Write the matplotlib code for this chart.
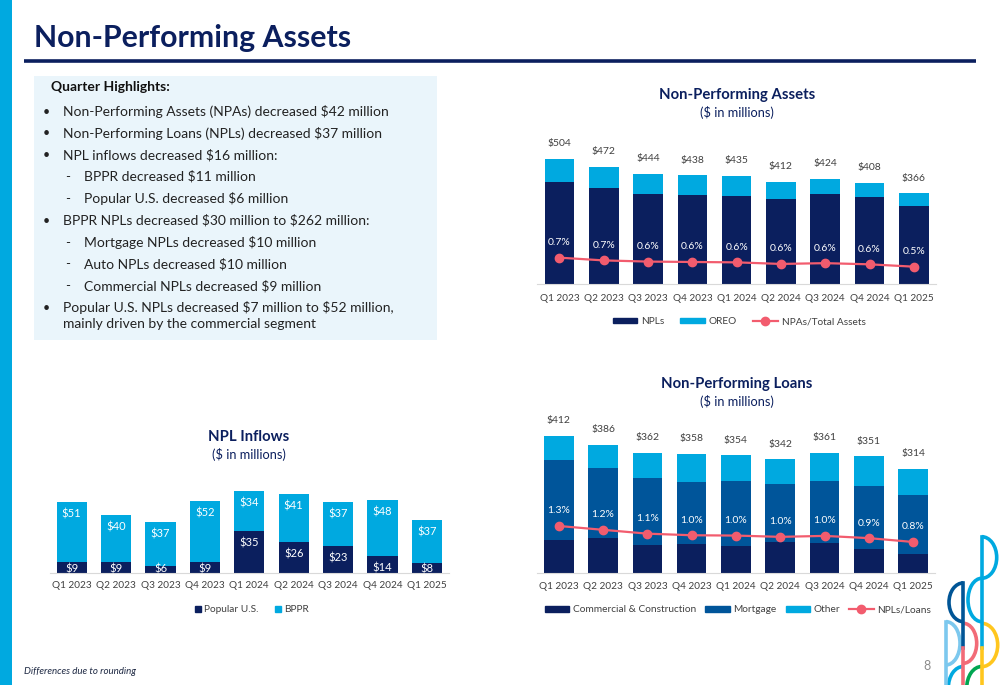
import matplotlib
matplotlib.use('Agg')
import matplotlib.pyplot as plt
from matplotlib.patches import Rectangle, Arc, Patch
from matplotlib.lines import Line2D

plt.rcParams['font.family'] = ['Lato', 'DejaVu Sans']

# ---------------- data ----------------
quarters = ['Q1 2023', 'Q2 2023', 'Q3 2023', 'Q4 2023', 'Q1 2024',
            'Q2 2024', 'Q3 2024', 'Q4 2024', 'Q1 2025']
npls = [412, 386, 362, 358, 354, 342, 361, 351, 314]
oreo = [92, 86, 82, 80, 81, 70, 63, 57, 52]
npa_ratio = [0.73, 0.66, 0.63, 0.62, 0.61, 0.57, 0.59, 0.56, 0.50]

commercial = [100, 107, 86, 89, 83, 93, 90, 73, 59]
mortgage = [240, 210, 199, 186, 195, 175, 187, 188, 177]
other = [72, 69, 77, 83, 76, 74, 84, 90, 78]
npl_ratio = [1.30, 1.18, 1.06, 1.01, 1.00, 0.96, 0.99, 0.92, 0.80]

popular_us = [9, 9, 6, 9, 35, 26, 23, 14, 8]
bppr = [51, 40, 37, 52, 34, 41, 37, 48, 37]

highlights = [
    ('b', 'Non-Performing Assets (NPAs) decreased $42 million'),
    ('b', 'Non-Performing Loans (NPLs) decreased $37 million'),
    ('b', 'NPL inflows decreased $16 million:'),
    ('s', 'BPPR decreased $11 million'),
    ('s', 'Popular U.S. decreased $6 million'),
    ('b', 'BPPR NPLs decreased $30 million to $262 million:'),
    ('s', 'Mortgage NPLs decreased $10 million'),
    ('s', 'Auto NPLs decreased $10 million'),
    ('s', 'Commercial NPLs decreased $9 million'),
    ('b', 'Popular U.S. NPLs decreased $7 million to $52 million,\nmainly driven by the commercial segment'),
]

# ---------------- styles ----------------
NAVY = '#0B1F5E'
MIDBLUE = '#00559A'
CYAN = '#00A9E0'
RED = '#F25C6E'
GRAY = '#404040'
TXT = '#222222'
W, H = 1000, 685

fig = plt.figure(figsize=(W / 100, H / 100), dpi=100)
fig.patch.set_facecolor('white')

bg = fig.add_axes([0, 0, 1, 1])
bg.set_xlim(0, W)
bg.set_ylim(H, 0)
bg.axis('off')


def px_axes(left, top, width, height):
    return fig.add_axes([left / W, 1 - (top + height) / H, width / W, height / H])


def txt(ax, xx, yy, s, **kw):
    return ax.text(xx, yy, s, parse_math=False, **kw)


# page decorations
bg.add_patch(Rectangle((0, 0), 12, H, color=CYAN, lw=0))
txt(bg, 34, 38, 'Non-Performing Assets', fontsize=21.8, fontweight='bold',
    color=NAVY, va='center', ha='left')
bg.plot([24, 976], [61, 61], color=NAVY, lw=2.6, solid_capstyle='butt')
bg.add_patch(Rectangle((34, 76), 403, 264, color='#EAF5FB', lw=0))
txt(bg, 51, 87, 'Quarter Highlights:', fontsize=10, fontweight='bold',
    color='#111111', va='center')
ys = [111.7, 133.3, 155, 176.7, 198.7, 220.7, 242.7, 264, 286, 307.7]
for (kind, item), y in zip(highlights, ys):
    if kind == 'b':
        txt(bg, 46, y, '•', fontsize=9, color=TXT, va='center', ha='center')
        tx = 63
    else:
        txt(bg, 68, y, '-', fontsize=9.5, color=TXT, va='center', ha='center')
        tx = 84
    for k, line in enumerate(item.split('\n')):
        txt(bg, tx, y + 16.6 * k, line, fontsize=10, color=TXT, va='center')

txt(bg, 24, 671.5, 'Differences due to rounding', fontsize=7, style='italic',
    color='#1F2A44', va='center')
txt(bg, 927.5, 665.5, '8', fontsize=9, color='#8C8C8C', va='center', ha='center')

# logo
lw = 2.6
bg.plot([981.7, 981.7], [536.7, 648], color=CYAN, lw=lw)
bg.plot([981.7, 981.7], [648, 686], color='#FFC61E', lw=lw)
bg.plot([963.3, 963.3], [583, 648], color='#005596', lw=lw)
bg.plot([963.3, 963.3], [648, 686], color='#F26B77', lw=lw)
bg.plot([946, 946], [621.7, 686], color='#7CC8EE', lw=lw)
arcs = [
    ((981.7, 557.5), 30, 41.6, -90, 90, CYAN),
    ((981.7, 600.0), 27.4, 43.4, 90, 270, CYAN),
    ((981.7, 645.0), 32, 43.4, -90, 90, '#FFC61E'),
    ((963.3, 602.3), 28.6, 38.7, 90, 270, '#005596'),
    ((963.3, 643.3), 26.8, 40, -90, 90, '#F26B77'),
    ((946.0, 643.3), 28, 43.3, -90, 90, '#7CC8EE'),
    ((963.3, 688.0), 30, 43, 90, 270, CYAN),
    ((981.7, 688.0), 30, 43, 90, 270, '#00A651'),
]
for c, wd, ht, t1, t2, col in arcs:
    bg.add_patch(Arc(c, wd, ht, theta1=t1, theta2=t2, color=col, lw=lw))

x = list(range(len(quarters)))


def style_axes(ax, pad):
    for s in ['top', 'left', 'right']:
        ax.spines[s].set_visible(False)
    ax.spines['bottom'].set_color('#D9D9D9')
    ax.spines['bottom'].set_linewidth(0.8)
    ax.set_yticks([])
    ax.set_xticks(x, quarters)
    ax.tick_params(axis='x', length=0, pad=pad, labelsize=7.2, labelcolor=GRAY)
    ax.set_xlim(-0.5, len(quarters) - 0.5)
    ax.patch.set_alpha(0)


def chart_title(cx, y1, y2, title):
    txt(bg, cx, y1, title, fontsize=10.7, fontweight='bold', color=NAVY, ha='center', va='center')
    txt(bg, cx, y2, '($ in millions)', fontsize=9.2, color=NAVY, ha='center', va='center')


def label(ax, s, xy, off, color):
    a = ax.annotate(s, xy, xytext=(0, off), textcoords='offset pixels',
                    ha='center', va='center', fontsize=7.5, color=color, zorder=5)
    a.set_parse_math(False)
    return a


LEG = dict(loc='center', bbox_transform=fig.transFigure, frameon=False,
           fontsize=7.3, labelcolor=GRAY)

# ---------------- Non-Performing Assets ----------------
ax1 = px_axes(537.3, 135, 398.7, 149)
style_axes(ax1, 7)
ax1.set_ylim(0, 600)
ax1.bar(x, npls, 0.67, color=NAVY, zorder=2)
ax1.bar(x, oreo, 0.67, bottom=npls, color=CYAN, zorder=2)
for i in x:
    tot = npls[i] + oreo[i]
    label(ax1, f'${tot}', (i, tot), 15, GRAY)
t1 = ax1.twinx()
t1.set_ylim(0.058, 3.86)
t1.axis('off')
t1.plot(x, npa_ratio, color=RED, lw=1.6, marker='o', ms=6, zorder=3)
for i in x:
    label(t1, f'{npa_ratio[i]:.1f}%', (i, npa_ratio[i]), 15, 'white')
chart_title(737, 95, 112, 'Non-Performing Assets')
h1 = [Patch(color=NAVY), Patch(color=CYAN),
      Line2D([], [], color=RED, lw=1.6, marker='o', ms=6)]
ax1.legend(h1, ['NPLs', 'OREO', 'NPAs/Total Assets'], ncol=3,
           bbox_to_anchor=(739 / W, 1 - 321.7 / H),
           handlelength=2.4, handleheight=0.45, handletextpad=0.4,
           columnspacing=1.6, **LEG)

# ---------------- Non-Performing Loans ----------------
ax2 = px_axes(536.6, 410, 398.7, 163.3)
style_axes(ax2, 6.5)
ax2.set_ylim(0, 490)
b1 = [c + m for c, m in zip(commercial, mortgage)]
ax2.bar(x, commercial, 0.67, color=NAVY, zorder=2)
ax2.bar(x, mortgage, 0.67, bottom=commercial, color=MIDBLUE, zorder=2)
ax2.bar(x, other, 0.67, bottom=b1, color=CYAN, zorder=2)
for i in x:
    tot = b1[i] + other[i]
    label(ax2, f'${tot}', (i, tot), 15, GRAY)
t2 = ax2.twinx()
t2.set_ylim(-0.179, 4.924)
t2.axis('off')
t2.plot(x, npl_ratio, color=RED, lw=1.6, marker='o', ms=6, zorder=3)
for i in x:
    label(t2, f'{npl_ratio[i]:.1f}%', (i, npl_ratio[i]), 15, 'white')
chart_title(737, 383.5, 401, 'Non-Performing Loans')
h2 = [Patch(color=NAVY), Patch(color=MIDBLUE), Patch(color=CYAN),
      Line2D([], [], color=RED, lw=1.6, marker='o', ms=6)]
ax2.legend(h2, ['Commercial & Construction', 'Mortgage', 'Other', 'NPLs/Loans'],
           ncol=4, bbox_to_anchor=(738 / W, 1 - 610 / H),
           handlelength=2.4, handleheight=0.45, handletextpad=0.35,
           columnspacing=0.9, **LEG)

# ---------------- NPL Inflows ----------------
ax3 = px_axes(49.5, 470, 399.6, 102.7)
style_axes(ax3, 6)
ax3.set_ylim(0, 87)
ax3.bar(x, popular_us, 0.68, color=NAVY, zorder=2)
ax3.bar(x, bppr, 0.68, bottom=popular_us, color=CYAN, zorder=2)
ppu = 102.7 / 87.0
for i in x:
    for top, val in [(popular_us[i], popular_us[i]), (popular_us[i] + bppr[i], bppr[i])]:
        off = -min(12, top * ppu - 4)
        lab = label(ax3, f'${val}', (i, top), off, 'white')
        lab.set_fontsize(8)
chart_title(249, 437, 454, 'NPL Inflows')
h3 = [Patch(color=NAVY), Patch(color=CYAN)]
ax3.legend(h3, ['Popular U.S.', 'BPPR'], ncol=2,
           bbox_to_anchor=(252 / W, 1 - 610 / H),
           handlelength=0.6, handleheight=0.6, handletextpad=0.35,
           columnspacing=1.6, **LEG)

fig.savefig('out.png', dpi=100)
